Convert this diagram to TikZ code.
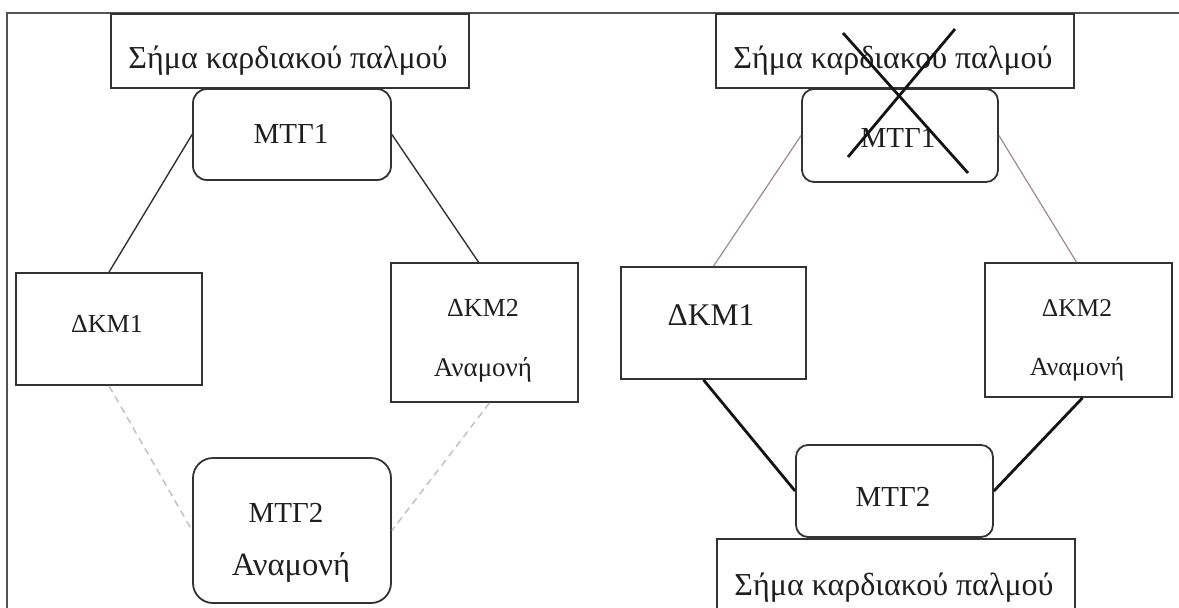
\documentclass[tikz,border=0pt]{standalone}
\usepackage{fontspec}
\setmainfont{Liberation Serif}
\begin{document}
\begin{tikzpicture}[x=1pt, y=-1pt,
  frameline/.style={draw=black!68, line width=1.6pt},
  box/.style={draw=black!80, line width=1.8pt, rectangle, inner sep=0pt},
  rbox/.style={box, rounded corners=#1},
  lbl/.style={font=\fontsize{#1pt}{#1pt}\selectfont, text=black!88, inner sep=0pt, anchor=base},
  link/.style={draw=black!80, line width=1.4pt},
  faint/.style={draw=black!25, line width=1.4pt, dash pattern=on 7pt off 5pt},
  pale/.style={draw=red!15!black!45, line width=1.2pt},
  heavy/.style={draw=black!92, line width=2.8pt},
  cross/.style={draw=black!92, line width=2.8pt}
]
\clip (0,0) rectangle (1179,608);
\fill[white] (0,0) rectangle (1179,608);

% outer frame (top and left edges only are visible)
\draw[frameline] (7,620) -- (7,13) -- (1190,13);

% ---------- left configuration ----------
\node[box, minimum width=358, minimum height=74] (sigL) at (290,51) {};
\node[rbox=14, minimum width=198, minimum height=91] (mtgaL) at (292,134.5) {};
\node[box, minimum width=186, minimum height=112] (dkmaL) at (109,329) {};
\node[box, minimum width=187, minimum height=139] (dkmbL) at (484.5,332.5) {};
\node[rbox=20, minimum width=198, minimum height=145] (mtgbL) at (292,530.5) {};

\node[lbl=32] (tsigL) at (288,68.5) {Σήμα καρδιακού παλμού};
\node[lbl=29] (tmtgaL) at (291,143.6) {ΜΤΓ1};
\node[lbl=26] (tdkmaL) at (107,332.6) {ΔΚΜ1};
\node[lbl=26] (tdkmbL) at (483,316.6) {ΔΚΜ2};
\node[lbl=27] (twaitbL) at (483,376) {Αναμονή};
\node[lbl=29] (tmtgbL) at (286,522.6) {ΜΤΓ2};
\node[lbl=32.5] (twaitmL) at (291,575.5) {Αναμονή};

\draw[link] (mtgaL.west) -- (dkmaL.north);
\draw[link] (mtgaL.east) -- ([xshift=-6pt]dkmbL.north);
\draw[faint] (dkmaL.south) -- (mtgbL.west);
\draw[faint] ([xshift=5pt]dkmbL.south) -- (mtgbL.east);

% ---------- right configuration ----------
\node[box, minimum width=358, minimum height=74] (sigR) at (895,51) {};
\node[rbox=12, minimum width=196, minimum height=93] (mtgaR) at (900,135.5) {};
\node[box, minimum width=185, minimum height=112] (dkmaR) at (713.5,323) {};
\node[box, minimum width=187, minimum height=134] (dkmbR) at (1078.5,330) {};
\node[rbox=12, minimum width=197, minimum height=92] (mtgbR) at (894.5,491) {};
\node[box, minimum width=358, minimum height=90] (sigB) at (896,584) {};

\node[lbl=32] (tsigR) at (893,68.5) {Σήμα καρδιακού παλμού};
\node[lbl=29] (tmtgaR) at (898,147.6) {ΜΤΓ1};
\node[lbl=31.5] (tdkmaR) at (711,325.5) {ΔΚΜ1};
\node[lbl=25.5] (tdkmbR) at (1077,316.5) {ΔΚΜ2};
\node[lbl=26] (twaitbR) at (1077,375.5) {Αναμονή};
\node[lbl=29] (tmtgbR) at (893,506.6) {ΜΤΓ2};
\node[lbl=32] (tsigB) at (894,595.5) {Σήμα καρδιακού παλμού};

\draw[pale] (mtgaR.west) -- (dkmaR.north);
\draw[pale] (mtgaR.east) -- ([xshift=-2pt]dkmbR.north);
\draw[heavy] ([xshift=-10pt]dkmaR.south) -- (mtgbR.west);
\draw[heavy] ([xshift=4pt]dkmbR.south) -- (mtgbR.east);

% failed unit struck through
\draw[cross] (843,33) -- (968,173);
\draw[cross] (955,29) -- (848,157);
\end{tikzpicture}
\end{document}
